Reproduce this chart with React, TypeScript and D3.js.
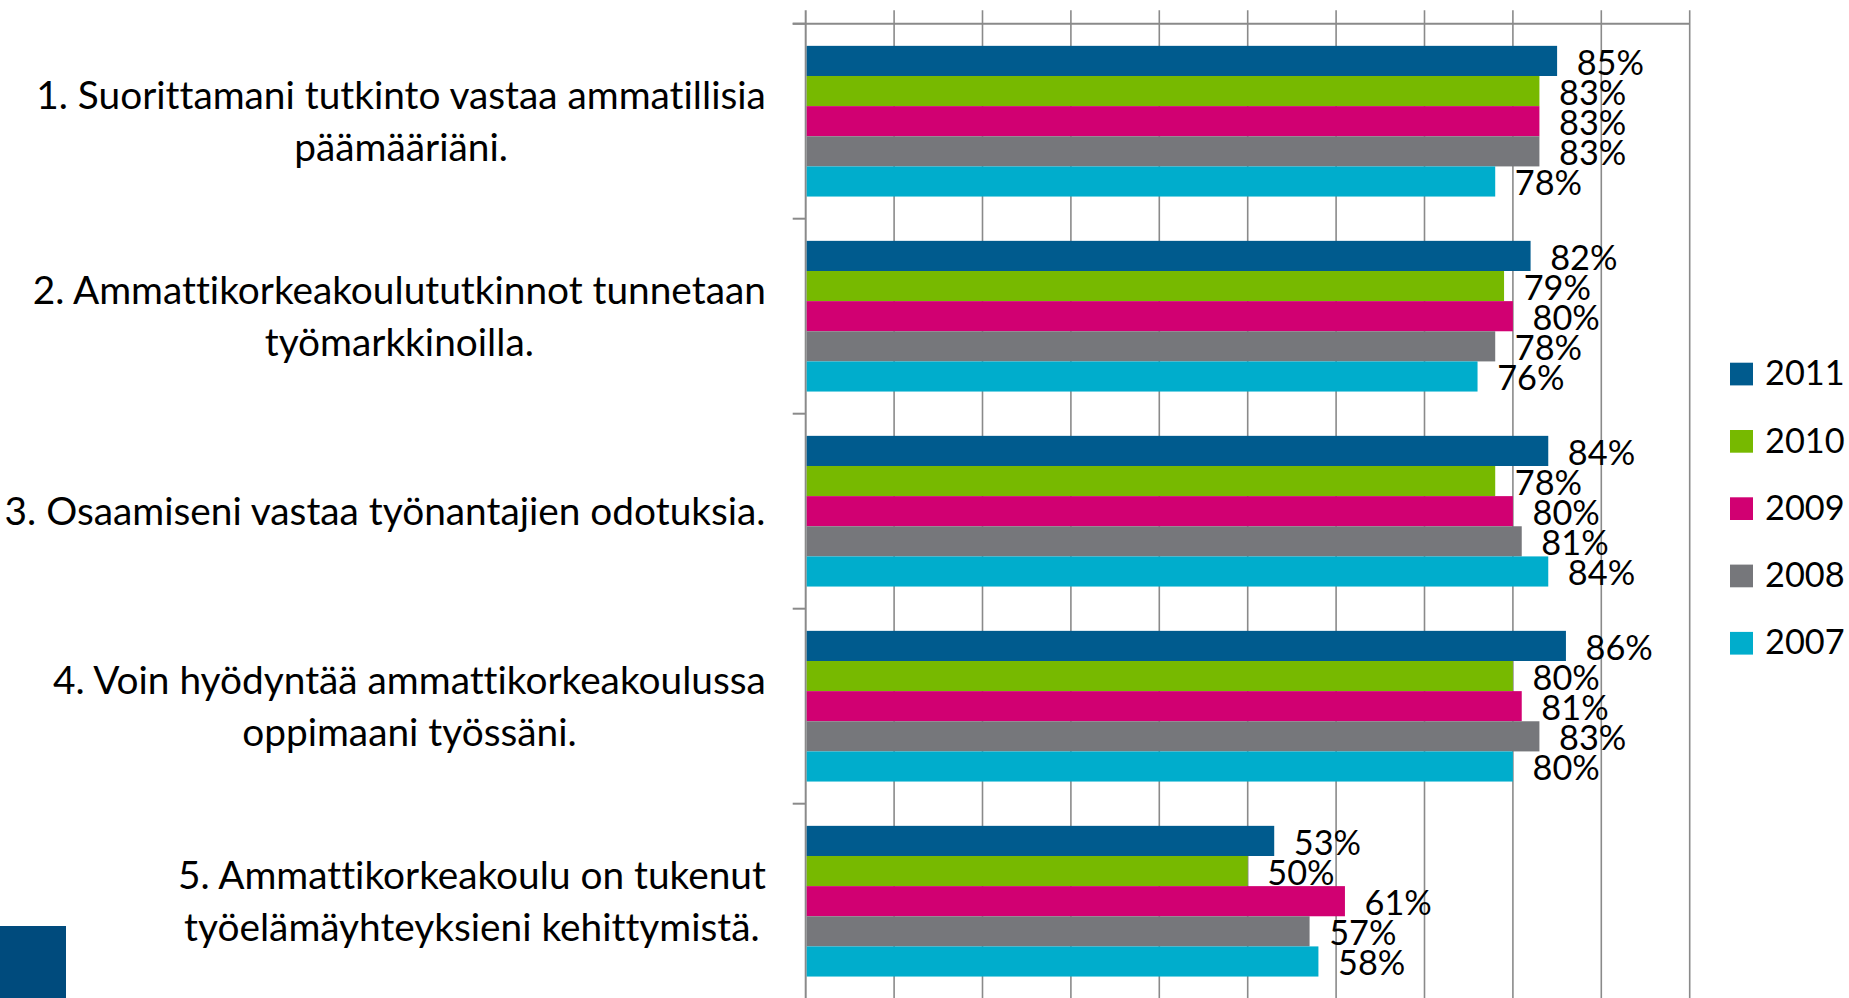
import React, { useMemo } from "react";
import * as d3 from "d3";

const categories = [
  ["1. Suorittamani tutkinto vastaa ammatillisia", "päämääriäni."],
  ["2. Ammattikorkeakoulututkinnot tunnetaan", "työmarkkinoilla."],
  ["3. Osaamiseni vastaa työnantajien odotuksia."],
  ["4. Voin hyödyntää ammattikorkeakoulussa", "oppimaani työssäni."],
  ["5. Ammattikorkeakoulu on tukenut", "työelämäyhteyksieni kehittymistä."],
];
const years = ["2011", "2010", "2009", "2008", "2007"];
const colors = ["#005b8e", "#77b900", "#d10072", "#76777b", "#00adcc"];

const v2011 = [85, 82, 84, 86, 53];
const v2010 = [83, 79, 78, 80, 50];
const v2009 = [83, 80, 80, 81, 61];
const v2008 = [83, 78, 81, 83, 57];
const v2007 = [78, 76, 84, 80, 58];
const series = [v2011, v2010, v2009, v2008, v2007];

const xTicks = [0, 10, 20, 30, 40, 50, 60, 70, 80, 90, 100];

const W = 1849;
const H = 998;
const FONT = "Lato, 'Open Sans', sans-serif";
const catSize = 38.8;
const valSize = 34.3;

export default function App() {
  const x = d3.scaleLinear().domain([0, 100]).range([805.7, 1689.7]);
  const top = 23.7;
  const y0 = d3
    .scaleBand<number>()
    .domain(d3.range(categories.length))
    .range([top, top + 195 * categories.length]);
  const y1 = d3
    .scaleBand<number>()
    .domain(d3.range(years.length))
    .range([0, y0.bandwidth()])
    .paddingInner(0)
    .paddingOuter(0.735);

  // widest line of each label, to right-align the block and centre the lines
  const widths = useMemo(() => {
    const ctx = document.createElement("canvas").getContext("2d")!;
    ctx.font = `${catSize}px Lato`;
    (ctx as any).fontVariantLigatures = "none";
    return categories.map((lines) =>
      Math.max(...lines.map((l) => ctx.measureText(l).width))
    );
  }, []);

  const labelRight = 766;
  const lineH = 52;

  return (
    <svg
      width={W}
      height={H}
      style={{
        position: "absolute",
        left: 0,
        top: 0,
        background: "#fff",
        fontVariantLigatures: "none",
      }}
      fontFamily={FONT}
    >
      {/* gridlines + top ticks */}
      {xTicks.map((t) => (
        <line
          key={t}
          x1={x(t)}
          x2={x(t)}
          y1={10.3}
          y2={H}
          stroke="#8a8a8a"
          strokeWidth={t === 0 ? 2 : 1.6}
        />
      ))}
      <line x1={x(0) - 13} x2={x(100)} y1={top} y2={top} stroke="#8a8a8a" strokeWidth={2} />
      {d3.range(categories.length).map((i) => (
        <line
          key={i}
          x1={x(0) - 13}
          x2={x(0)}
          y1={y0(i)!}
          y2={y0(i)!}
          stroke="#8a8a8a"
          strokeWidth={2}
        />
      ))}

      {/* bars */}
      {series.map((vals, s) =>
        vals.map((v, i) => (
          <rect
            key={`${s}-${i}`}
            x={x(0) + 1}
            y={y0(i)! + y1(s)!}
            width={x(v) - x(0) - 1}
            height={y1.bandwidth()}
            fill={colors[s]}
          />
        ))
      )}

      {/* value labels */}
      {series.map((vals, s) =>
        vals.map((v, i) => (
          <text
            key={`l${s}-${i}`}
            x={x(v) + 19.6}
            y={y0(i)! + y1(s)! + y1.bandwidth() / 2 + 14}
            fontSize={valSize}
            fill="#000"
          >
            {v}%
          </text>
        ))
      )}

      {/* category labels */}
      {categories.map((lines, i) => {
        const cx = labelRight - widths[i] / 2;
        const cy = y0(i)! + y0.bandwidth() / 2;
        const first = cy - ((lines.length - 1) * lineH) / 2;
        return (
          <text key={i} fontSize={catSize} textAnchor="middle" fill="#000">
            {lines.map((l, k) => (
              <tspan key={k} x={cx} y={first + k * lineH + 14}>
                {l}
              </tspan>
            ))}
          </text>
        );
      })}

      {/* legend */}
      {years.map((yr, s) => (
        <g key={yr} transform={`translate(1730, ${362.7 + s * 67.3})`}>
          <rect width={23} height={22.7} fill={colors[s]} />
          <text x={35} y={22.5} fontSize={valSize} fill="#000">
            {yr}
          </text>
        </g>
      ))}

      {/* corner block */}
      <rect x={0} y={926} width={66} height={H - 926} fill="#004b7d" />
    </svg>
  );
}
